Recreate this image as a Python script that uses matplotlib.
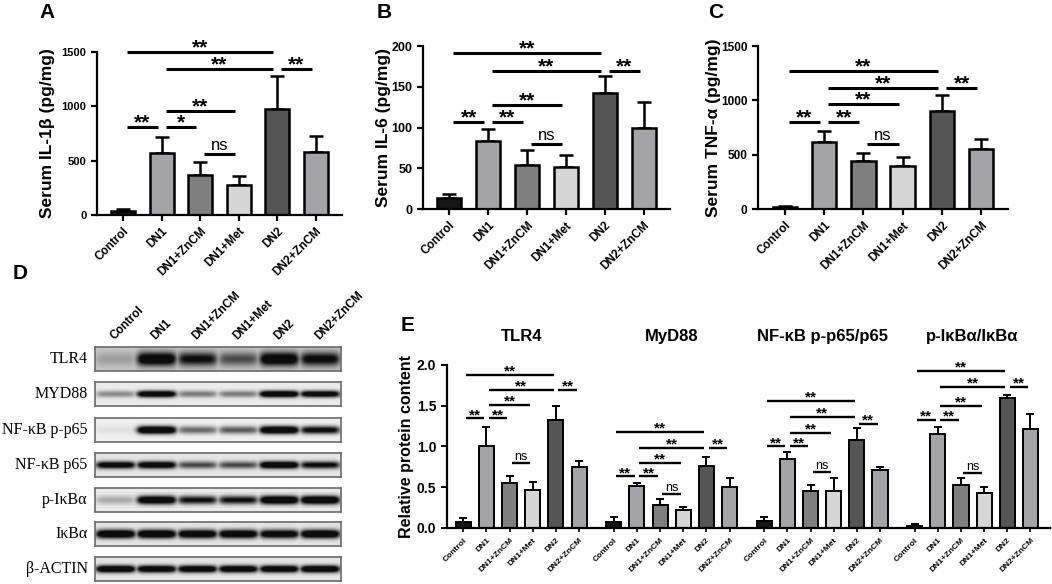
import numpy as np
import matplotlib.pyplot as plt

plt.rcParams['font.family'] = ['Liberation Sans', 'DejaVu Sans']
plt.rcParams['font.weight'] = 'bold'
plt.rcParams['axes.labelweight'] = 'bold'
plt.rcParams['axes.linewidth'] = 1.6

#%% data
groups = ['Control', 'DN1', 'DN1+ZnCM', 'DN1+Met', 'DN2', 'DN2+ZnCM']
bar_colors = ['#151515', '#a3a3a8', '#7f7f7f', '#d6d6d6', '#555555', '#a3a3a8']

il1b_mean = [35, 570, 370, 275, 975, 580]
il1b_sd = [15, 145, 120, 80, 300, 145]
il6_mean = [13, 83, 54, 52, 142, 100]
il6_sd = [6, 15, 18, 14, 21, 31]
tnf_mean = [20, 615, 440, 400, 905, 555]
tnf_sd = [8, 105, 80, 80, 143, 90]

# (from, to, height, label)
il1b_sig = [(0, 4, 1500, '**'), (1, 4, 1340, '**'), (4, 5, 1340, '**'), (1, 3, 960, '**'),
            (0, 1, 810, '**'), (1, 2, 810, '*'), (2, 3, 560, 'ns')]
il6_sig = [(0, 4, 191, '**'), (1, 4, 169, '**'), (4, 5, 169, '**'), (1, 3, 128, '**'),
           (0, 1, 107, '**'), (1, 2, 107, '**'), (2, 3, 80, 'ns')]
tnf_sig = [(0, 4, 1270, '**'), (1, 4, 1111, '**'), (4, 5, 1111, '**'), (1, 3, 963, '**'),
           (0, 1, 800, '**'), (1, 2, 800, '**'), (2, 3, 598, 'ns')]

# western blot, relative band darkness per lane
blot_rows = ['TLR4', 'MYD88', 'NF-κB p-p65', 'NF-κB p65', 'p-IκBα', 'IκBα', 'β-ACTIN']
tlr4_band = [0.15, 0.9, 0.7, 0.45, 0.9, 0.75]
myd88_band = [0.3, 0.95, 0.35, 0.35, 1.0, 0.9]
pp65_band = [0.05, 1.0, 0.4, 0.45, 1.0, 0.75]
p65_band = [0.85, 0.9, 0.5, 0.5, 1.0, 0.75]
pikba_band = [0.2, 0.95, 0.7, 0.7, 1.0, 1.0]
ikba_band = [1.0, 1.0, 0.95, 0.95, 0.9, 1.0]
actin_band = [1.0, 0.95, 0.95, 0.95, 0.95, 1.0]
band_thick = [0.42, 0.2, 0.24, 0.22, 0.26, 0.26, 0.22]
blot_bg = [0.78, 0.92, 0.94, 0.9, 0.92, 0.9, 0.9]

# panel E
e_titles = ['TLR4', 'MyD88', 'NF-κB p-p65/p65', 'p-IκBα/IκBα']
tlr4_rel = [0.074, 1.01, 0.55, 0.46, 1.32, 0.75]
tlr4_sd = [0.04, 0.23, 0.09, 0.10, 0.17, 0.07]
myd88_rel = [0.07, 0.51, 0.28, 0.22, 0.76, 0.50]
myd88_sd = [0.06, 0.04, 0.07, 0.03, 0.11, 0.11]
nfkb_rel = [0.08, 0.84, 0.455, 0.455, 1.08, 0.71]
nfkb_sd = [0.05, 0.09, 0.075, 0.155, 0.14, 0.04]
ikba_rel = [0.02, 1.15, 0.52, 0.43, 1.59, 1.21]
ikba_sd = [0.03, 0.09, 0.09, 0.07, 0.04, 0.19]
tlr4_sig = [(0, 4, 1.88, '**'), (1, 4, 1.69, '**'), (4, 5, 1.69, '**'), (1, 3, 1.51, '**'),
            (0, 1, 1.345, '**'), (1, 2, 1.345, '**'), (2, 3, 0.79, 'ns')]
myd88_sig = [(0, 4, 1.18, '**'), (1, 4, 0.98, '**'), (4, 5, 0.98, '**'), (1, 3, 0.80, '**'),
             (0, 1, 0.63, '**'), (1, 2, 0.63, '**'), (2, 3, 0.41, 'ns')]
nfkb_sig = [(0, 4, 1.56, '**'), (1, 4, 1.36, '**'), (4, 5, 1.28, '**'), (1, 3, 1.17, '**'),
            (0, 1, 1.0, '**'), (1, 2, 1.0, '**'), (2, 3, 0.68, 'ns')]
ikba_sig = [(0, 4, 1.93, '**'), (1, 4, 1.73, '**'), (4, 5, 1.73, '**'), (1, 3, 1.50, '**'),
            (0, 1, 1.33, '**'), (1, 2, 1.33, '**'), (2, 3, 0.67, 'ns')]


def draw_sig(ax, x, sig, star_fs, ns_fs, lw, star_off, shrink=0.1):
    for i, j, y, lab in sig:
        ax.plot([x[i] + shrink, x[j] - shrink], [y, y], color='black', lw=lw,
                solid_capstyle='butt', clip_on=False)
        xm = (x[i] + x[j]) / 2
        if lab == 'ns':
            ax.annotate(lab, (xm, y), xytext=(0, 0.5), textcoords='offset points',
                        ha='center', va='bottom', fontsize=ns_fs, fontweight='normal')
        else:
            ax.annotate(lab, (xm, y), xytext=(0, star_off), textcoords='offset points',
                        ha='center', va='baseline', fontsize=star_fs)


def bars(ax, x, mean, sd, width, lw, cap):
    ax.bar(x, mean, width, color=bar_colors * (len(x) // 6), edgecolor='black',
           linewidth=lw, zorder=2)
    ax.errorbar(x, mean, yerr=[np.zeros(len(sd)), sd], fmt='none', ecolor='black',
                elinewidth=lw, capsize=cap, capthick=lw, zorder=1)
    ax.spines[['top', 'right']].set_visible(False)


fig = plt.figure(figsize=(10.52, 5.84), dpi=100)

#%% panels A-C
top_panels = [
    ('A', 0.038, [0.0922, 0.632, 0.2328, 0.279], il1b_mean, il1b_sd, il1b_sig, 1500, 500,
     'Serum IL-1β (pg/mg)', 8, 5),
    ('B', 0.358, [0.4018, 0.642, 0.2352, 0.279], il6_mean, il6_sd, il6_sig, 200, 50,
     'Serum IL-6 (pg/mg)', 9, 0),
    ('C', 0.673, [0.7205, 0.642, 0.2377, 0.279], tnf_mean, tnf_sd, tnf_sig, 1500, 500,
     'Serum TNF-α (pg/mg)', 8.5, 0),
]
x6 = np.arange(6)
for letter, lx, pos, mean, sd, sig, ymax, step, ylab, tfs, lpad in top_panels:
    ax = fig.add_axes(pos)
    bars(ax, x6, mean, sd, 0.62, 1.8, 5)
    ax.set_xlim(-0.68, 5.68)
    ax.set_ylim(0, ymax)
    ax.set_yticks(np.arange(0, ymax + 1, step))
    ax.set_xticks(x6)
    ax.set_xticklabels(groups, rotation=45, ha='right', rotation_mode='anchor',
                       fontsize=8.5, fontweight='bold')
    ax.tick_params(axis='y', labelsize=tfs, width=1.6, length=4)
    ax.tick_params(axis='x', width=1.6, length=4)
    for t in ax.get_yticklabels():
        t.set_fontweight('bold')
    ax.set_ylabel(ylab, fontsize=12.5, labelpad=lpad)
    draw_sig(ax, x6, sig, 15, 12, 2.2, -1)
    fig.text(lx, 0.979, letter, fontsize=15, fontweight='bold', va='center')

#%% panel D blot
fig.text(0.012, 0.531, 'D', fontsize=15, fontweight='bold', va='center')
bands = [tlr4_band, myd88_band, pp65_band, p65_band, pikba_band, ikba_band, actin_band]
bx0, bw = 95 / 1052, 246 / 1052
row_tops = [346.7, 382, 417.7, 453, 487.7, 522, 557]
nx, ny = 300, 40
xx = np.linspace(0, 6, nx)
yy = np.linspace(-1, 1, ny)
for r, name in enumerate(blot_rows):
    axb = fig.add_axes([bx0, 1 - (row_tops[r] + 24) / 584, bw, 24 / 584])
    bg = blot_bg[r]
    img = np.full((ny, nx), bg)
    for k, d in enumerate(bands[r]):
        px = 0.5 * (np.tanh((xx - k - 0.04) * 10) - np.tanh((xx - k - 0.96) * 10))
        py = np.exp(-(yy / (band_thick[r] * 1.4)) ** 2)
        dens = np.clip(1.5 * d * np.outer(py, px), 0, 1)
        img = np.minimum(img, bg - (bg - 0.05) * dens)
    axb.imshow(img, cmap='gray', vmin=0, vmax=1, aspect='auto', extent=[0, 6, -1, 1])
    axb.set_xticks([])
    axb.set_yticks([])
    for s in axb.spines.values():
        s.set_color('#6a6a6a')
        s.set_linewidth(1.2)
    fig.text(bx0 - 0.007, 1 - (row_tops[r] + 12) / 584, name, ha='right', va='center',
             fontsize=11.5, fontweight='normal', family='Liberation Serif')
for k, g in enumerate(groups):
    fig.text(bx0 + bw * (k + 0.52) / 6, 1 - 342 / 584, g, rotation=45, ha='left',
             va='bottom', rotation_mode='anchor', fontsize=8.5, fontweight='bold')

#%% panel E
axe = fig.add_axes([0.4246, 0.0964, 0.5734, 0.2786])
e_mean = tlr4_rel + myd88_rel + nfkb_rel + ikba_rel
e_sd = tlr4_sd + myd88_sd + nfkb_sd + ikba_sd
e_sig = [tlr4_sig, myd88_sig, nfkb_sig, ikba_sig]
xe = np.concatenate([g * 6.5 + x6 for g in range(4)])
bars(axe, xe, e_mean, e_sd, 0.65, 1.4, 3)
axe.set_xlim(-0.72, 25.34)
axe.set_ylim(0, 2.0)
axe.set_yticks([0, 0.5, 1.0, 1.5, 2.0])
axe.set_yticklabels(['0.0', '0.5', '1.0', '1.5', '2.0'], fontweight='bold')
axe.set_xticks(xe)
axe.set_xticklabels(groups * 4, rotation=45, ha='right', rotation_mode='anchor',
                    fontsize=6, fontweight='bold')
axe.tick_params(axis='y', labelsize=10, width=1.4, length=4)
axe.tick_params(axis='x', width=1.2, length=3)
axe.set_ylabel('Relative protein content', fontsize=11.5, labelpad=2)
for g in range(4):
    xg = g * 6.5 + x6
    draw_sig(axe, xg, e_sig[g], 11, 9, 1.7, -0.5)
    axe.text(xg.mean(), 2.35, e_titles[g], ha='center', va='center', fontsize=12,
             fontweight='bold')
fig.text(0.381, 0.443, 'E', fontsize=15, fontweight='bold', va='center')

plt.savefig('out.png', dpi=100)
